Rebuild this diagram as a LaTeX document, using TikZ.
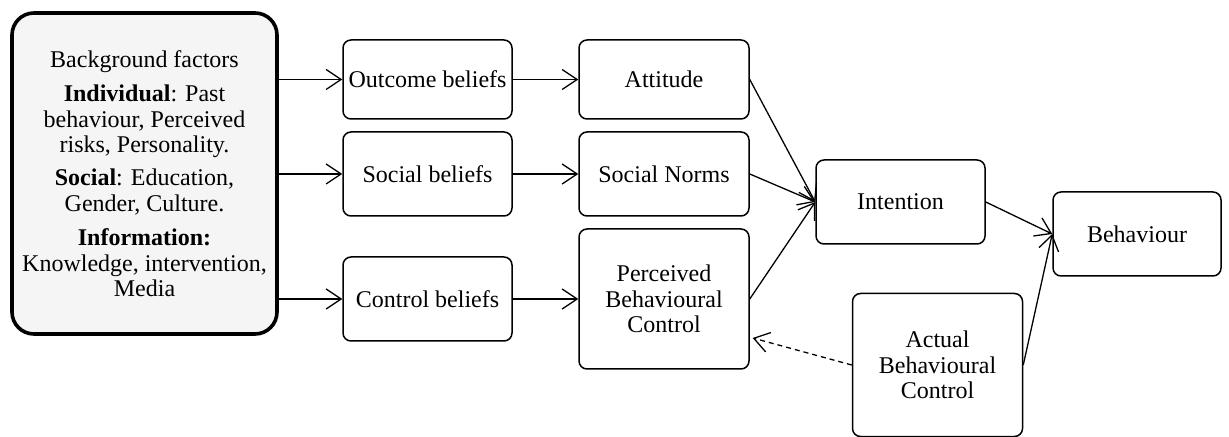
\documentclass[tikz,border=0pt]{standalone}
\usepackage{fontspec}
\setmainfont{Liberation Serif}
\usetikzlibrary{arrows.meta}
\begin{document}
\begin{tikzpicture}[x=0.5pt,y=-0.5pt,
  txt/.style={font=\fontsize{12pt}{12.8pt}\selectfont},
  box/.style={draw=black, line width=0.75pt, rounded corners=4pt, align=center,
    inner sep=0pt, minimum width=84.5pt, minimum height=42pt, txt},
  bgbox/.style={draw=black, line width=1.8pt, rounded corners=11pt, fill=black!4,
    align=center, inner sep=0pt, minimum width=132.5pt, minimum height=160.5pt, txt},
  link/.style={line width=0.65pt, -{Straight Barb[length=7.5pt,width=10pt]}},
  dlink/.style={link, dash pattern=on 2.5pt off 2pt}
]
\useasboundingbox (0,0) rectangle (1229,437);

% background factors
\node[bgbox] (bg) at (144.5,173.5) {Background factors\\[4.5pt]
  \textbf{Individual}: Past\\ behaviour, Perceived\\ risks, Personality.\\[3.7pt]
  \textbf{Social}: Education,\\ Gender, Culture.\\[4.2pt]
  \textbf{Information:}\\ Knowledge, intervention,\\ Media};

% beliefs
\node[box, minimum height=39.5pt] (outcome) at (427.5,79.5) {Outcome beliefs};
\node[box] (socb) at (427.5,174) {Social beliefs};
\node[box] (ctrl) at (427.5,299) {Control beliefs};

% attitudes, norms, perceived control
\node[box, minimum width=85pt, minimum height=39.5pt] (att) at (664,79.5) {Attitude};
\node[box, minimum width=85pt] (norms) at (664,174) {Social Norms};
\node[box, minimum width=85pt, minimum height=70pt] (pbc) at (664,299) {Perceived\\ Behavioural\\ Control};

% intention and behaviour
\node[box] (int) at (900.5,202) {Intention};
\node[box, minimum width=84pt] (beh) at (1137,234) {Behaviour};
\node[box, minimum width=85pt, minimum height=71.5pt] (abc) at (937.5,365) {Actual\\ Behavioural\\ Control};

% connectors
\draw[link] (bg.east |- outcome.west) -- (outcome.west);
\draw[link] (bg.east |- socb.west) -- (socb.west);
\draw[link] (bg.east |- ctrl.west) -- (ctrl.west);
\draw[link] (outcome.east) -- (att.west);
\draw[link] (socb.east) -- (norms.west);
\draw[link] (ctrl.east) -- (pbc.west);
\draw[link] (att.east) -- (int.west);
\draw[link] (norms.east) -- (int.west);
\draw[link] (pbc.east) -- (int.west);
\draw[link] (int.east) -- (beh.west);
\draw[link] (abc.east) -- (beh.west);
\draw[dlink, shorten >=1.5pt] (abc.west) -- (pbc.-24);
\end{tikzpicture}
\end{document}
